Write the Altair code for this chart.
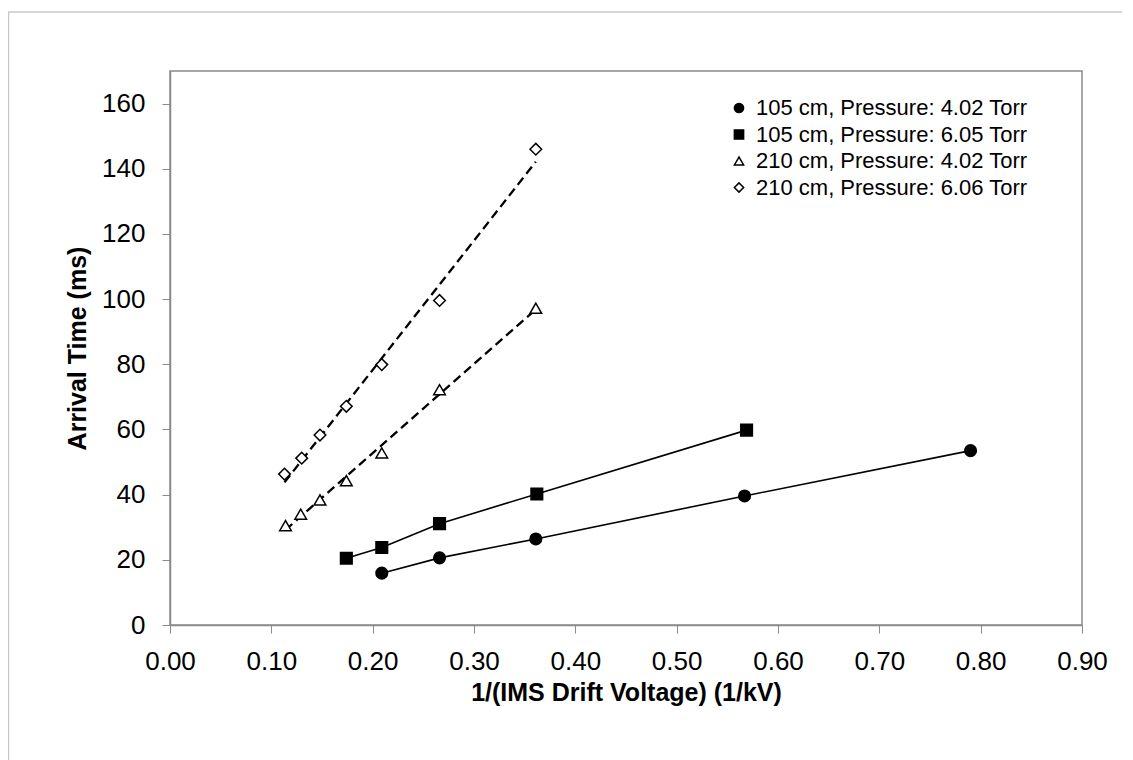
import altair as alt
import pandas as pd

SERIES = [
    "105 cm, Pressure: 4.02 Torr",
    "105 cm, Pressure: 6.05 Torr",
    "210 cm, Pressure: 4.02 Torr",
    "210 cm, Pressure: 6.06 Torr",
]

x_105_402 = [0.209, 0.266, 0.361, 0.567, 0.790]
y_105_402 = [15.9, 20.6, 26.4, 39.6, 53.5]

x_105_605 = [0.174, 0.209, 0.266, 0.362, 0.569]
y_105_605 = [20.5, 23.8, 31.1, 40.2, 59.8]

x_210_402 = [0.114, 0.129, 0.148, 0.174, 0.209, 0.266, 0.361]
y_210_402 = [30.5, 34.0, 38.4, 44.3, 52.8, 72.2, 97.2]

x_210_606 = [0.113, 0.130, 0.148, 0.174, 0.209, 0.266, 0.361]
y_210_606 = [46.3, 51.2, 58.3, 67.1, 79.9, 99.6, 146.0]

x_ticks = [0.0, 0.1, 0.2, 0.3, 0.4, 0.5, 0.6, 0.7, 0.8, 0.9]
y_ticks = [0, 20, 40, 60, 80, 100, 120, 140, 160]

rows = []
for name, xs, ys in [
    (SERIES[0], x_105_402, y_105_402),
    (SERIES[1], x_105_605, y_105_605),
    (SERIES[2], x_210_402, y_210_402),
    (SERIES[3], x_210_606, y_210_606),
]:
    for xv, yv in zip(xs, ys):
        rows.append({"series": name, "x": xv, "y": yv})
df = pd.DataFrame(rows)

FONT = "Liberation Sans"

xscale = alt.Scale(domain=[0, 0.9], nice=False, zero=False)
yscale = alt.Scale(domain=[0, 170], nice=False)

X = alt.X("x:Q", scale=xscale, title="1/(IMS Drift Voltage) (1/kV)",
          axis=alt.Axis(values=x_ticks, format=".2f", labelFlush=False))
Y = alt.Y("y:Q", scale=yscale, title="Arrival Time (ms)",
          axis=alt.Axis(values=y_ticks, format="d", labelFlush=False))

base = alt.Chart(df)

solid = base.transform_filter(
    alt.FieldOneOfPredicate(field="series", oneOf=SERIES[:2])
).mark_line(color="black", strokeWidth=1.6).encode(
    x=X, y=Y, detail="series:N"
)

dashed = base.transform_filter(
    alt.FieldOneOfPredicate(field="series", oneOf=SERIES[2:])
).transform_regression(
    "x", "y", groupby=["series"], method="linear"
).mark_line(color="black", strokeWidth=2.3, strokeDash=[9, 5]).encode(
    x=alt.X("x:Q", scale=xscale), y=alt.Y("y:Q", scale=yscale), detail="series:N"
)

points = base.mark_point(strokeWidth=1.5, opacity=1, fillOpacity=1, size=135).encode(
    x=alt.X("x:Q", scale=xscale),
    y=alt.Y("y:Q", scale=yscale),
    shape=alt.Shape("series:N", scale=alt.Scale(
        domain=SERIES, range=["circle", "square", "triangle-up", "diamond"]),
        legend=alt.Legend(title=None)),
    fill=alt.Fill("series:N", scale=alt.Scale(
        domain=SERIES, range=["black", "black", "white", "white"]),
        legend=alt.Legend(title=None)),
    stroke=alt.Stroke("series:N", scale=alt.Scale(
        domain=SERIES, range=["black", "black", "black", "black"]),
        legend=alt.Legend(title=None)),
)

frame_df = pd.DataFrame({"k": [0]})
frame_left = alt.Chart(frame_df).mark_rule(color="#c8c8c8", strokeWidth=1.5).encode(
    x=alt.value(-161.5), y=alt.value(-59), y2=alt.value(760)
)
frame_top = alt.Chart(frame_df).mark_rule(color="#c8c8c8", strokeWidth=1.5).encode(
    x=alt.value(-162), x2=alt.value(1000), y=alt.value(-59)
)

chart = alt.layer(frame_left, frame_top, solid, dashed, points).properties(
    width=912, height=554,
    autosize=alt.AutoSizeParams(type="none"),
    padding={"left": 162, "top": 63, "right": 40, "bottom": 140},
).configure_view(
    stroke="#8a8a8a", strokeWidth=1.5
).configure_axis(
    grid=False,
    domainColor="#8a8a8a",
    domainWidth=1.5,
    tickColor="#8a8a8a",
    tickSize=8,
    tickWidth=1,
    labelFont=FONT,
    labelFontSize=26,
    labelColor="black",
    titleFont=FONT,
    titleFontSize=25,
    titleFontWeight="bold",
    titleColor="black",
).configure_axisX(
    labelPadding=15,
    titlePadding=6,
).configure_axisY(
    labelPadding=17,
    titlePadding=11,
).configure_legend(
    orient="none",
    legendX=558,
    legendY=26,
    labelFont=FONT,
    labelFontSize=22,
    labelColor="black",
    symbolSize=85,
    symbolStrokeWidth=1.5,
    rowPadding=4.5,
    labelOffset=6,
    labelLimit=400,
)

chart.save("out.html", embed_options={"renderer": "svg", "actions": False})
